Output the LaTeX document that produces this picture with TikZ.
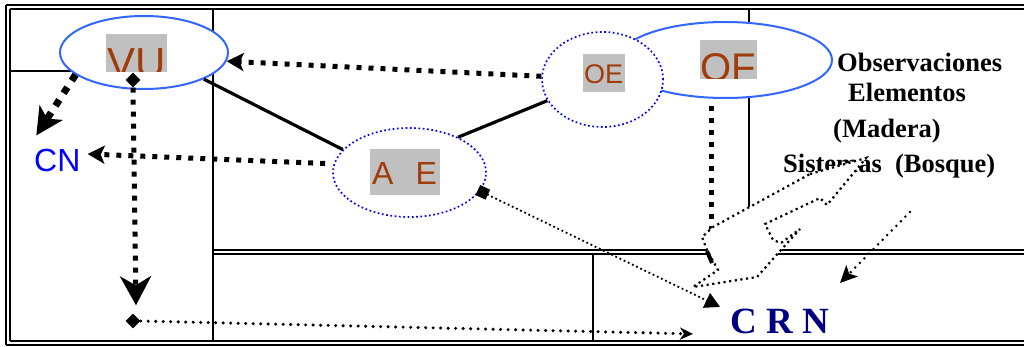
\documentclass[tikz,border=0pt]{standalone}
\usepackage{fontspec}
\setmainfont{Liberation Serif}
\setsansfont{Liberation Sans}
\usetikzlibrary{arrows.meta,shapes.geometric,calc}
\definecolor{ebl}{RGB}{51,102,255}
\definecolor{dbl}{RGB}{0,0,255}
\definecolor{brn}{RGB}{160,60,10}
\definecolor{gbx}{RGB}{192,192,192}
\definecolor{nav}{RGB}{0,0,128}
\begin{document}
\begin{tikzpicture}[x=1pt,y=-1pt,
  tline/.style={line width=2pt},
  ell/.style={ellipse, inner sep=0pt, fill=white},
  solidell/.style={ell, draw=ebl, line width=2pt},
  dotell/.style={ell, draw=dbl, line width=1.7pt, dash pattern=on 1.7pt off 2.6pt},
  sq/.style={line width=5pt, dash pattern=on 5pt off 7pt},
  bsq/.style={line width=7pt, dash pattern=on 7pt off 8pt},
  rdot/.style={line width=3.4pt, dash pattern=on 0pt off 7.5pt, line cap=round},
  mdot/.style={line width=2.8pt, dash pattern=on 0pt off 6.5pt, line cap=round},
  tdot/.style={line width=1.8pt, dash pattern=on 1.8pt off 2.8pt},
  shp/.style={line width=2.2pt, dash pattern=on 2.2pt off 3.5pt, fill=white},
  lab/.style={font=\sffamily, text=brn, inner sep=0pt},
  rtxt/.style={font=\bfseries\fontsize{26.5pt}{26.5pt}\selectfont, inner sep=0pt, anchor=base west},
  dia/.style={diamond, fill=black, inner sep=0pt, minimum size=15pt}
]
\useasboundingbox (0,0) rectangle (1024,347);
% table lines
\draw[tline] (6,5) -- (1024,5);
\draw[tline] (10,9) -- (1024,9);
\draw[tline] (6,5) -- (6,345);
\draw[tline] (10,9) -- (10,341);
\draw[tline] (6,345) -- (1024,345);
\draw[tline] (10,341) -- (1024,341);
\draw[tline] (213,9) -- (213,341);
\draw[tline] (10,71) -- (213,71);
\draw[tline] (749,9) -- (749,250);
\draw[tline] (213,250) -- (1024,250);
\draw[tline] (213,254) -- (1024,254);
\draw[tline] (593,254) -- (593,341);

% ellipses
\node[solidell, minimum width=214pt, minimum height=76pt] (of) at (725,60) {};
\node[dotell, minimum width=121pt, minimum height=95pt] (oe) at (602.5,79.5) {};
\node[solidell, minimum width=168pt, minimum height=73pt] (vu) at (144,52.5) {};
\node[dotell, minimum width=153pt, minimum height=89pt] (ae) at (409.5,172.5) {};

% labels in ellipses
\fill[gbx] (106,34) rectangle (167,72);
\begin{scope}
  \clip (106,34) rectangle (167,72);
  \node[lab, font=\sffamily\fontsize{42pt}{42pt}\selectfont, anchor=base] (vut) at (136.5,78) {VU};
\end{scope}
\fill[gbx] (700,40) rectangle (757,79);
\begin{scope}
  \clip (700,40) rectangle (757,79);
  \node[lab, font=\sffamily\fontsize{40pt}{40pt}\selectfont, anchor=base] (oft) at (728,81.5) {OF};
\end{scope}
\fill[gbx] (583,54) rectangle (625,92);
\node[lab, font=\sffamily\fontsize{27pt}{27pt}\selectfont, anchor=base] (oet) at (603.5,84) {OE};
\fill[gbx] (370,149) rectangle (440,195);
\node[lab, font=\sffamily\fontsize{32pt}{32pt}\selectfont, anchor=base west] (aet) at (372,185) {A\hspace{22pt}E};

% plain texts
\node[font=\sffamily\fontsize{32pt}{32pt}\selectfont, text=dbl, inner sep=0pt, anchor=base west] (cn) at (34,172) {CN};
\node[font=\bfseries\fontsize{37pt}{37pt}\selectfont, text=nav, inner sep=0pt, anchor=base west] (crn) at (730,333) {C R N};
\node[rtxt] (t1) at (837,72) {Observaciones};
\node[rtxt] (t2) at (848,102) {Elementos};
\node[rtxt] (t3) at (833,138) {(Madera)};
\node[rtxt] (t4) at (783,173) {Sistemas\ \ (Bosque)};

% solid lines
\draw[line width=3.2pt] (vu.-24) -- (ae.161);
\draw[line width=3.2pt] (ae.36) -- (oe.201);

% thick dotted arrows
\draw[sq, -{Stealth[length=17pt,width=18pt,inset=4pt]}] (oe.177) -- (vu.-6);
\draw[sq, -{Stealth[length=17pt,width=18pt,inset=4pt]}] ($(ae.west)+(-7,-9)$) -- ($(cn.east)+(7,-7)$);
\draw[bsq, -{Stealth[length=27pt,width=27pt,inset=7pt]}] (vu.198) -- ($(cn.north)+(-21,-14)$);

% diamonds and vertical
\node[dia] (d1) at (133,80) {};
\node[dia] (d2) at (133,321) {};
\draw[sq, -{Stealth[length=29pt,width=31pt,inset=9pt]}] (d1.south) -- ($(d2.north)+(3,-8)$);
\draw[rdot, -{Stealth[length=13pt,width=12pt,inset=4pt]}] (d2.east) -- ($(crn.west)+(-37,13)$);

% AE diamond to CRN
\node[rectangle, fill=black, minimum size=11pt, inner sep=0pt, rotate=-25] (d3) at ($(ae.-15)+(3,1)$) {};
\draw[tdot, -{Triangle[length=15pt,width=16pt]}] (d3.center) -- ($(crn.west)+(-10,-14)$);

% OF dotted line down
\draw[sq] ($(of.south)+(-14,7)$) -- ++(0,140);

% small dotted arrow
\coordinate (s1) at (910,212);
\coordinate (s2) at (840,283);
\draw[mdot, -{Stealth[length=17pt,width=16pt,inset=4pt]}] (s1) -- (s2);

% block arrow shape
\draw[shp] (810,174) -- (866,158) -- (827,205) -- (820,198) -- (765,224) -- (773,240)
  -- (781,243) -- (800,229) -- (780,251) -- (757,277) -- (693,287) -- (718,270)
  -- (707,250) -- (702,237) -- (713,227) -- cycle;
\draw[line width=4pt] (707,251) -- (712,263);
\end{tikzpicture}
\end{document}
